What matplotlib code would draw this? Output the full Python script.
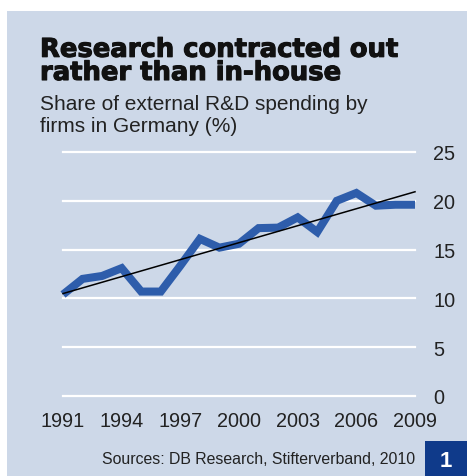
import numpy as np
import matplotlib.pyplot as plt
import matplotlib.patheffects as pe
from matplotlib.patches import Rectangle

plt.rcParams['font.family'] = ['Liberation Sans', 'DejaVu Sans']

years = list(range(1991, 2010))
share = [10.4, 12.0, 12.3, 13.1, 10.7, 10.7, 13.35, 16.1, 15.2, 15.6,
         17.2, 17.25, 18.3, 16.8, 20.0, 20.8, 19.5, 19.6, 19.6]
xticks = [1991, 1994, 1997, 2000, 2003, 2006, 2009]
yticks = [0, 5, 10, 15, 20, 25]

bg = '#cdd8e8'
W, H = 467, 477
fig = plt.figure(figsize=(W / 100, H / 100), dpi=100)
fig.patch.set_facecolor('white')

# light blue panel
fig.patches.append(Rectangle((7 / W, 0), 1 - 7 / W, 1 - 12 / H, transform=fig.transFigure,
                             facecolor=bg, edgecolor='none', zorder=-5))

ax = fig.add_axes([63 / W, 1 - 397 / H, (415 - 63) / W, (397 - 153) / H])
ax.set_facecolor('none')
ax.set_xlim(1991, 2009)
ax.set_ylim(0, 25)

for y in yticks:
    ax.axhline(y, color='white', lw=1.6, zorder=1, clip_on=False)

ax.plot(years, share, color='#2e5dab', lw=5.8, solid_joinstyle='miter',
        solid_capstyle='butt', zorder=2, clip_on=False)

# linear trend
k, b = np.polyfit(years, share, 1)
ax.plot([1991, 2009], [k * 1991 + b, k * 2009 + b], color='black', lw=1.1,
        zorder=3, clip_on=False)

for s in ax.spines.values():
    s.set_visible(False)
ax.set_xticks(xticks)
ax.set_yticks(yticks)
ax.yaxis.tick_right()
ax.tick_params(length=0, labelsize=14.3, colors='#222222')
ax.tick_params(axis='y', pad=13)
ax.tick_params(axis='x', pad=11)

bold = [pe.withStroke(linewidth=0.8, foreground='#111111')]
fig.text(40 / W, 1 - 81 / H, 'Research contracted out\nrather than in-house',
         family='DejaVu Sans', fontsize=18.6, fontweight='bold', color='#111111',
         va='baseline', linespacing=0.86, path_effects=bold)
fig.text(40 / W, 1 - 132 / H, 'Share of external R&D spending by\nfirms in Germany (%)',
         fontsize=15, color='#222222', va='baseline', linespacing=1.17)

fig.text(415 / W, 1 - 460 / H, 'Sources: DB Research, Stifterverband, 2010',
         fontsize=11.4, color='#222222', ha='right', va='center')
fig.patches.append(Rectangle((425 / W, 0), 1 - 425 / W, 35 / H, transform=fig.transFigure,
                             facecolor='#0f3a8a', edgecolor='none', zorder=1))
fig.text(446 / W, 1 - 462 / H, '1', fontsize=16, fontweight='bold', color='white',
         ha='center', va='center', zorder=2)

fig.savefig('out.png', dpi=100, facecolor=fig.get_facecolor())
